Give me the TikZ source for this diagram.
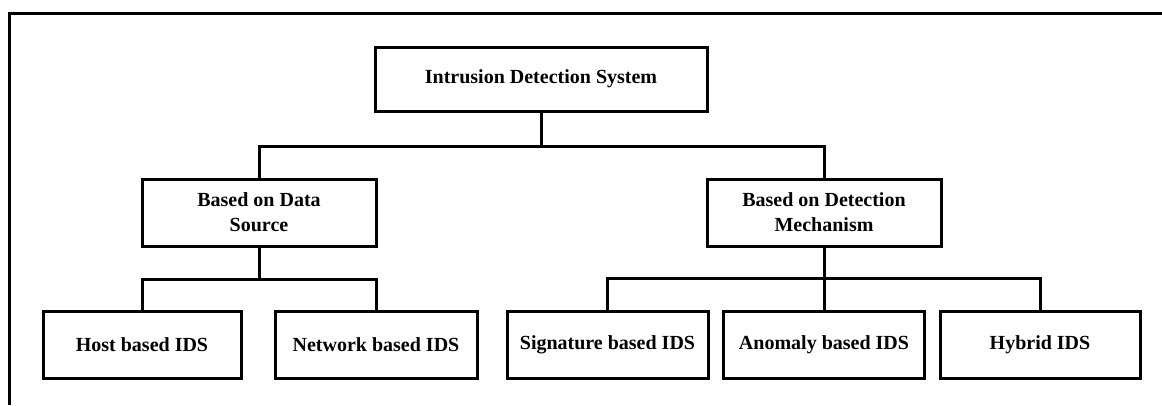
\documentclass[tikz,border=0pt]{standalone}
\usepackage{fontspec}
\setmainfont{Liberation Serif}
\begin{document}
\begin{tikzpicture}[x=1pt,y=-1pt,
  box/.style={draw=black, line width=3pt, rectangle, align=center, inner sep=0pt,
    font=\bfseries\fontsize{20}{25}\selectfont},
  wire/.style={draw=black, line width=3pt, line join=miter},
  frame/.style={draw=black, line width=3pt}]
\useasboundingbox (0,0) rectangle (1162,405);
\draw[frame] (9,405) -- (9,13.5) -- (1162,13.5);
\node[box, minimum width=332pt, minimum height=64pt] (root) at (541,79) {Intrusion Detection System};
\node[box, minimum width=234pt, minimum height=67pt] (ds) at (259,212.5) {Based on Data\\Source};
\node[box, minimum width=234pt, minimum height=67pt] (dm) at (824,212.5) {Based on Detection\\Mechanism};
\node[box, minimum width=198pt, minimum height=67pt] (host) at (142,344.5) {Host based IDS};
\node[box, minimum width=202pt, minimum height=67pt] (net) at (376,344.5) {Network based IDS};
\node[box, minimum width=201pt, minimum height=67pt] (sig) at (607.5,344.5) {Signature based IDS};
\node[box, minimum width=201pt, minimum height=67pt] (ano) at (824,344.5) {Anomaly based IDS};
\node[box, minimum width=200pt, minimum height=67pt] (hyb) at (1040,344.5) {Hybrid IDS};
\coordinate (j1) at (541,146);
\coordinate (j2) at (259,279);
\coordinate (j3) at (824,278);
\draw[wire] (root.south) -- (j1);
\draw[wire] (ds.north) |- (j1) -| (dm.north);
\draw[wire] (ds.south) -- (j2);
\draw[wire] (host.north) |- (j2) -| (net.north);
\draw[wire] (dm.south) -- (ano.north);
\draw[wire] (sig.north) |- (j3) -| (hyb.north);
\end{tikzpicture}
\end{document}
